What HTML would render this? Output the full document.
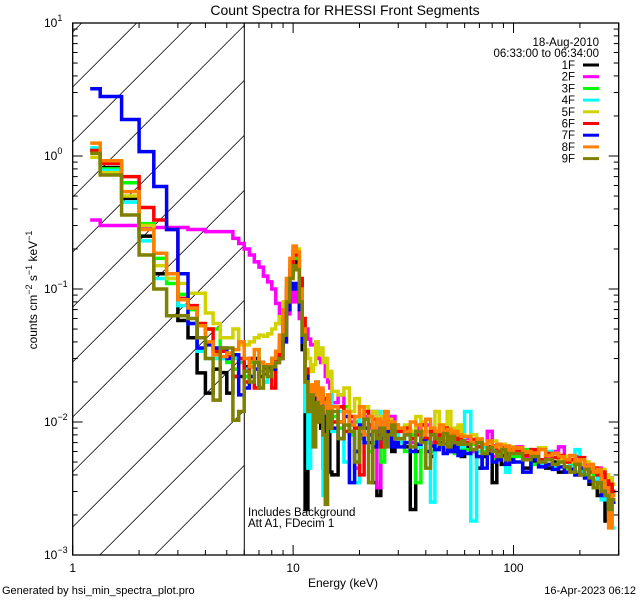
<!DOCTYPE html>
<html><head><meta charset="utf-8">
<style>
html,body{margin:0;padding:0;background:#fff;width:640px;height:600px;overflow:hidden;}
svg{display:block;font-family:"Liberation Sans",sans-serif;}
</style></head>
<body>
<svg id="chart" width="640" height="600" viewBox="0 0 640 600" xmlns="http://www.w3.org/2000/svg">
  <rect x="0" y="0" width="640" height="600" fill="#fff"/>
  <text x="345" y="15" font-size="14" text-anchor="middle">Count Spectra for RHESSI Front Segments</text>
  <defs><clipPath id="plotclip"><rect x="72.7" y="23" width="546" height="532"/></clipPath></defs>
  <g id="hatch"></g>
  <line x1="244.3" y1="23" x2="244.3" y2="555" stroke="#000" stroke-width="1"/>
  <g id="series" clip-path="url(#plotclip)"></g>
  <rect x="72.7" y="23" width="546" height="532" fill="none" stroke="#000" stroke-width="1.3"/>
  <g id="axes"></g>
  <text x="343" y="587" font-size="12" text-anchor="middle">Energy (keV)</text>
  <text transform="translate(37,290) rotate(-90)" font-size="12" text-anchor="middle">counts cm<tspan font-size="9" dy="-5">−2</tspan><tspan dy="5"> s</tspan><tspan font-size="9" dy="-5">−1</tspan><tspan dy="5"> keV</tspan><tspan font-size="9" dy="-5">−1</tspan></text>
  <text x="248" y="516" font-size="11.5">Includes Background</text>
  <text x="248" y="527" font-size="11.5">Att A1, FDecim 1</text>
  <text x="2" y="594" font-size="11">Generated by hsi_min_spectra_plot.pro</text>
  <text x="636" y="594" font-size="11" text-anchor="end">16-Apr-2023 06:12</text>
  <text x="599" y="46" font-size="11.5" text-anchor="end">18-Aug-2010</text>
  <text x="599" y="57" font-size="11.5" text-anchor="end">06:33:00 to 06:34:00</text>
  <g id="legend"></g>
</svg>
<script>
// Energy bin grid segments: [start keV, end keV, bin width keV]
const binSegments = [[1.2,1.3333,0.1333],[1.3333,15,0.33333],[15,30,1],[30,60,2],[60,100,4],[100,290,10]];
const seriesNames = ["1F","2F","3F","4F","5F","6F","7F","8F","9F"];
const seriesColors = ["#000000","#ff00ff","#00ff00","#00ffff","#d2d200","#ff0000","#0000ff","#ff8000","#808000"];
const yTickLabels = ["−3","−2","−1","0","1"];
const xTickLabels = ["1","10","100"];

const s1F = [1.1,0.82,0.48,0.25,0.13,0.13,0.058,0.043,0.0234,0.0165,0.025,0.0235,0.0165,0.022,0.022,
0.026,0.03,0.03,0.022,0.025,0.026,0.03,0.033,0.036,
0.06,0.1,0.13,0.16,0.14,0.08,0.035,0.0022,0.012,0.018,
0.013,0.011,0.016,0.009,0.0045,0.01,0.012,0.0042,
0.004,0.01,0.012,0.008,0.006,0.011,0.009,0.007,0.0035,0.0028,0.009,0.007,0.0085,0.006,0.0075,
0.007,0.0065,0.0022,0.006,0.0075,0.007,0.0055,0.008,0.0065,0.007,0.006,0.0075,0.006,0.0065,0.0055,
0.0065,0.006,0.0045,0.0055,0.0065,0.0035,0.006,0.0048,0.0055,0.005,
0.006,0.0045,0.005,0.0052,0.0045,0.005,0.0042,0.0046,0.0045,0.004,0.0042,0.0038,0.0034,0.0036,0.0028,0.003,0.0018,0.0028,0.0025];
const s2F = [0.33,0.30,0.30,0.29,0.29,0.29,0.29,0.28,0.28,0.27,0.27,0.27,0.27,0.24,0.22,
0.20,0.18,0.16,0.146,0.125,0.113,0.1,0.078,0.055,
0.05,0.065,0.08,0.095,0.08,0.06,0.045,0.05,0.042,0.038,
0.038,0.036,0.03,0.028,0.03,0.022,0.02,0.018,
0.014,0.016,0.012,0.01,0.0045,0.008,0.011,0.009,0.012,0.0032,0.01,0.008,0.009,0.011,0.007,
0.0085,0.008,0.007,0.009,0.0075,0.0095,0.007,0.008,0.0075,0.009,0.0065,0.0085,0.007,0.0075,0.0065,
0.0075,0.006,0.007,0.0065,0.0085,0.0055,0.006,0.0065,0.0055,0.006,
0.0065,0.0055,0.006,0.005,0.0055,0.006,0.0065,0.005,0.0045,0.0055,0.004,0.0048,0.0042,0.004,0.0045,0.0035,0.003,0.0038,0.003];
const s3F = [1.1,0.8,0.63,0.31,0.17,0.11,0.091,0.07,0.043,0.05,0.05,0.03,0.028,0.025,0.028,
0.022,0.028,0.035,0.018,0.02,0.024,0.027,0.03,0.04,
0.055,0.09,0.13,0.19,0.17,0.1,0.045,0.02,0.015,0.017,
0.014,0.018,0.012,0.016,0.011,0.015,0.009,0.013,
0.011,0.009,0.013,0.008,0.01,0.0075,0.012,0.006,0.0105,0.0085,0.005,0.009,0.0095,0.0075,0.008,
0.0075,0.006,0.008,0.0035,0.0085,0.007,0.006,0.0075,0.0068,0.0072,0.0062,0.0074,0.0058,0.0066,0.006,
0.0062,0.0068,0.0055,0.006,0.007,0.0052,0.0058,0.0062,0.005,0.0056,
0.0055,0.0062,0.0048,0.0052,0.0056,0.0046,0.005,0.0045,0.0048,0.0042,0.0044,0.004,0.0045,0.0036,0.0038,0.0032,0.003,0.0034,0.0026];
const s4F = [1.15,0.78,0.45,0.23,0.12,0.12,0.075,0.055,0.034,0.03,0.03,0.03,0.03,0.03,0.03,
0.025,0.022,0.028,0.024,0.02,0.026,0.03,0.032,0.045,
0.07,0.11,0.15,0.2,0.19,0.09,0.04,0.012,0.0045,0.016,
0.012,0.02,0.011,0.015,0.0028,0.013,0.01,0.016,
0.0085,0.012,0.005,0.0095,0.0035,0.011,0.008,0.0095,0.007,0.012,0.008,0.009,0.0075,0.0085,0.008,
0.007,0.0085,0.0075,0.0065,0.008,0.007,0.0025,0.008,0.0065,0.0072,0.0068,0.0075,0.0062,0.007,0.0065,
0.012,0.0018,0.006,0.0065,0.0058,0.0062,0.0055,0.006,0.0042,0.0058,
0.0058,0.0052,0.0056,0.0048,0.006,0.0045,0.0052,0.0055,0.0046,0.0062,0.0042,0.0045,0.0036,0.0032,0.0038,0.0026,0.003,0.0022,0.0016];
const s5F = [0.98,0.75,0.5,0.3,0.15,0.12,0.11,0.093,0.093,0.066,0.055,0.043,0.043,0.05,0.038,
0.038,0.04,0.043,0.045,0.044,0.046,0.05,0.055,0.062,
0.08,0.12,0.16,0.21,0.2,0.11,0.06,0.035,0.03,0.024,
0.027,0.04,0.032,0.036,0.028,0.03,0.022,0.024,
0.017,0.016,0.018,0.012,0.015,0.011,0.013,0.0095,0.012,0.01,0.011,0.009,0.0105,0.0095,0.0085,
0.009,0.0095,0.0085,0.011,0.01,0.0085,0.009,0.012,0.0085,0.0095,0.012,0.0085,0.009,0.0095,0.008,
0.0078,0.008,0.0075,0.0068,0.007,0.0072,0.0065,0.0068,0.0062,0.0065,
0.0062,0.0058,0.006,0.0064,0.0056,0.0058,0.0052,0.0055,0.005,0.0052,0.0048,0.005,0.0046,0.0045,0.0042,0.0044,0.004,0.0038,0.0034];
const s6F = [1.1,0.88,0.7,0.41,0.33,0.28,0.085,0.075,0.055,0.05,0.034,0.034,0.031,0.022,0.03,
0.02,0.03,0.018,0.028,0.023,0.025,0.018,0.03,0.038,
0.06,0.1,0.14,0.19,0.18,0.12,0.06,0.025,0.017,0.013,
0.018,0.011,0.014,0.017,0.012,0.015,0.009,0.012,
0.01,0.013,0.0085,0.011,0.009,0.004,0.012,0.0095,0.0105,0.008,0.0065,0.01,0.0085,0.009,0.0095,
0.0085,0.009,0.0075,0.008,0.0095,0.0075,0.0085,0.007,0.008,0.009,0.0075,0.0082,0.007,0.0078,0.0072,
0.007,0.0074,0.0065,0.0068,0.0062,0.0066,0.006,0.0064,0.0058,0.0062,
0.006,0.0056,0.0062,0.0052,0.0058,0.0054,0.0056,0.005,0.0052,0.0048,0.0054,0.0046,0.0042,0.0045,0.004,0.0042,0.0036,0.0034,0.003];
const s7F = [3.2,2.8,1.88,1.08,0.59,0.28,0.13,0.055,0.036,0.038,0.036,0.036,0.03,0.032,0.016,
0.018,0.022,0.025,0.028,0.024,0.026,0.025,0.028,0.03,
0.04,0.07,0.1,0.11,0.1,0.07,0.04,0.022,0.017,0.014,
0.012,0.016,0.01,0.014,0.011,0.0085,0.013,0.012,
0.009,0.0075,0.011,0.0035,0.006,0.0095,0.007,0.008,0.0065,0.009,0.0075,0.007,0.0085,0.0065,0.007,
0.0065,0.007,0.006,0.0068,0.0072,0.006,0.0066,0.0062,0.007,0.0058,0.0064,0.006,0.0066,0.0056,0.006,
0.0058,0.0062,0.0055,0.0045,0.0058,0.005,0.0052,0.0056,0.0048,0.0052,
0.005,0.0042,0.0052,0.0046,0.0048,0.0044,0.0046,0.0042,0.0044,0.004,0.0045,0.0038,0.0036,0.0032,0.0035,0.0028,0.003,0.0026,0.0025];
const s8F = [1.25,0.92,0.54,0.28,0.186,0.13,0.083,0.072,0.053,0.04,0.032,0.031,0.033,0.035,0.04,
0.03,0.026,0.035,0.028,0.024,0.027,0.03,0.034,0.045,
0.07,0.12,0.17,0.21,0.19,0.1,0.05,0.02,0.016,0.019,
0.016,0.02,0.013,0.018,0.014,0.012,0.016,0.011,
0.013,0.01,0.012,0.0095,0.011,0.013,0.008,0.011,0.009,0.0105,0.0085,0.012,0.009,0.01,0.0095,
0.009,0.0085,0.01,0.0095,0.008,0.0105,0.009,0.0085,0.0095,0.008,0.0088,0.0075,0.0085,0.008,0.0078,
0.0078,0.007,0.0074,0.0068,0.0072,0.0065,0.0068,0.0062,0.0066,0.006,
0.0064,0.006,0.0058,0.0062,0.0056,0.0058,0.0055,0.0052,0.0056,0.005,0.0052,0.0046,0.0048,0.0042,0.0044,0.0036,0.0032,0.0016,0.0028];
const s9F = [1.05,0.72,0.36,0.18,0.1,0.063,0.063,0.06,0.043,0.03,0.0146,0.036,0.036,0.0103,0.012,
0.024,0.02,0.028,0.018,0.026,0.022,0.026,0.028,0.03,
0.045,0.08,0.12,0.15,0.14,0.08,0.045,0.02,0.012,0.016,
0.0065,0.014,0.01,0.013,0.008,0.0024,0.012,0.009,
0.012,0.0075,0.0095,0.0085,0.005,0.009,0.0105,0.0035,0.0085,0.0075,0.009,0.0065,0.008,0.0095,0.0075,
0.0075,0.008,0.0065,0.0085,0.007,0.0045,0.008,0.0075,0.0068,0.0082,0.0065,0.0078,0.007,0.0068,0.0072,
0.0068,0.0062,0.007,0.0058,0.0064,0.006,0.0055,0.0062,0.0052,0.0058,
0.0058,0.0052,0.0055,0.005,0.0052,0.0048,0.005,0.0046,0.0042,0.0048,0.004,0.0044,0.0038,0.0032,0.0035,0.003,0.0028,0.0022,0.0026];
const seriesValues = [s1F,s2F,s3F,s4F,s5F,s6F,s7F,s8F,s9F];

const NS = "http://www.w3.org/2000/svg";
const X0 = 72.7, X1 = 618.7, Y0 = 555, Y1 = 23, XH = 244.3;
const XMIN = 0, XMAX = Math.log10(300), YMIN = -3, YMAX = 1;
function xs(e){ return X0 + (Math.log10(e) - XMIN) / (XMAX - XMIN) * (X1 - X0); }
function ys(v){ return Y0 - (Math.log10(v) - YMIN) / (YMAX - YMIN) * (Y0 - Y1); }
function mk(tag, attrs, parent){ const el = document.createElementNS(NS, tag); for (const k in attrs) el.setAttribute(k, attrs[k]); parent.appendChild(el); return el; }

const edges = [];
binSegments.forEach(function(s, i){
  if (i === 0) edges.push(s[0]);
  const n = Math.round((s[1] - s[0]) / s[2]);
  for (let k = 1; k <= n; k++) edges.push(s[0] + k * (s[1] - s[0]) / n);
});

// hatch (clipped analytically to the excluded region)
const hatch = document.getElementById('hatch');
for (let k = -10; k <= 4; k++) {
  const y0 = 417 + 55 * k;
  let xa = X0, ya = y0;
  if (ya > Y0) { xa = X0 + (ya - Y0); ya = Y0; }
  if (xa >= XH) continue;
  let xb = Math.min(XH, X0 + (y0 - Y1));
  if (xb <= xa) continue;
  const yb = y0 - (xb - X0);
  const ln = mk('line', {x1: xa.toFixed(1), y1: ya.toFixed(1), x2: xb.toFixed(1), y2: yb.toFixed(1), stroke: '#000', 'stroke-width': 0.8}, hatch);
  
  
}

const sg = document.getElementById('series');
seriesValues.forEach(function(vals, si){
  let d = '';
  for (let i = 0; i < vals.length && i + 1 < edges.length; i++) {
    const xa = xs(edges[i]).toFixed(1), xb = xs(edges[i+1]).toFixed(1), y = ys(vals[i]).toFixed(1);
    d += (i === 0 ? 'M' : 'L') + xa + ',' + y + 'L' + xb + ',' + y;
  }
  const p = mk('path', {d: d, fill: 'none', stroke: seriesColors[si], 'stroke-width': 3.5, 'stroke-linejoin': 'miter'}, sg);
  
  
});

const ax = document.getElementById('axes');
for (let dec = 0; dec <= 2; dec++) {
  for (let m = 1; m <= 9; m++) {
    const e = m * Math.pow(10, dec);
    if (e > 300) break;
    const x = xs(e), len = m === 1 ? 10 : 5;
    const t1 = mk('line', {x1: x, y1: Y0, x2: x, y2: Y0 - len, stroke: '#000', 'stroke-width': 1}, ax);
    
    
    const t2 = mk('line', {x1: x, y1: Y1, x2: x, y2: Y1 + len, stroke: '#000', 'stroke-width': 1}, ax);
    
    
  }
}
xTickLabels.forEach(function(lab, i){
  const t = mk('text', {x: xs(Math.pow(10, i)), y: 572, 'font-size': 12, 'text-anchor': 'middle'}, ax);
  t.textContent = lab;
  
  
});
for (let dec = -3; dec <= 0; dec++) {
  for (let m = 1; m <= 9; m++) {
    const v = m * Math.pow(10, dec), y = ys(v), len = m === 1 ? 10 : 5;
    const t1 = mk('line', {x1: X0, y1: y, x2: X0 + len, y2: y, stroke: '#000', 'stroke-width': 1}, ax);
    
    
    const t2 = mk('line', {x1: X1, y1: y, x2: X1 - len, y2: y, stroke: '#000', 'stroke-width': 1}, ax);
    
    
  }
}
yTickLabels.forEach(function(lab, i){
  const y = ys(Math.pow(10, i - 3));
  const t = mk('text', {x: 44, y: y + 4, 'font-size': 12, 'text-anchor': 'start'}, ax);
  
  
  const a = mk('tspan', {}, t); a.textContent = '10';
  const b = mk('tspan', {'font-size': 9, dy: -6}, t); b.textContent = lab;
});

const lg = document.getElementById('legend');
seriesNames.forEach(function(nm, i){
  const y = 65 + i * 11.7;
  const t = mk('text', {x: 575, y: y + 4, 'font-size': 11.5, 'text-anchor': 'end'}, lg);
  t.textContent = nm;
  
  
  const l = mk('line', {x1: 583, y1: y, x2: 599, y2: y, stroke: seriesColors[i], 'stroke-width': 3}, lg);
  
  
});
</script>
</body></html>
